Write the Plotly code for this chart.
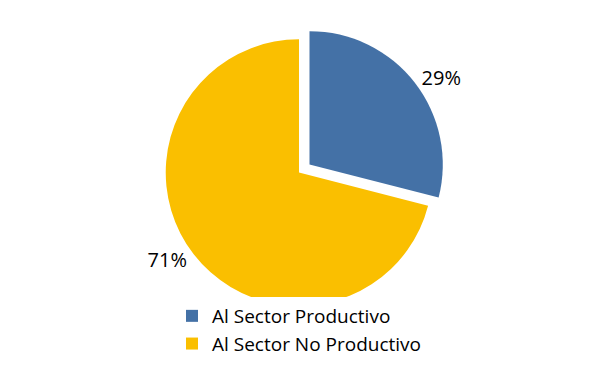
import plotly.graph_objects as go

labels = ["Al Sector Productivo", "Al Sector No Productivo"]
values = [29, 71]
colors = ["#4471A6", "#FABF00"]

fig = go.Figure(go.Pie(
    labels=labels,
    values=values,
    sort=False,
    direction="clockwise",
    rotation=0,
    pull=[0.1, 0],
    marker=dict(colors=colors, line=dict(color="white", width=0)),
    texttemplate="%{percent:.0%}",
    textposition="outside",
    textfont=dict(size=20, color="#000000", family="Open Sans"),
    hoverinfo="label+percent",
    domain=dict(x=[0.0, 1.0], y=[0.13, 1.0]),
))

fig.update_layout(
    width=609, height=369,
    margin=dict(l=10, r=10, t=6, b=6),
    paper_bgcolor="white",
    plot_bgcolor="white",
    font=dict(family="Open Sans", size=19, color="#000000"),
    showlegend=True,
    legend=dict(orientation="h", x=0.5, xanchor="center", y=0.0, yanchor="bottom",
                font=dict(size=19), itemwidth=30),
)

fig.write_html("out.html")
